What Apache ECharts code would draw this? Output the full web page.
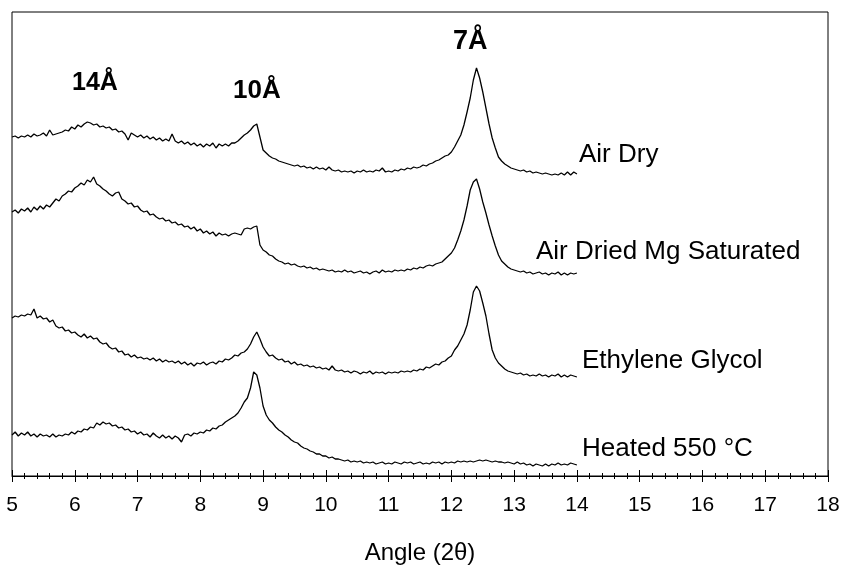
<!DOCTYPE html>
<html>
<head>
<meta charset="utf-8">
<script src="https://cdn.jsdelivr.net/npm/echarts@6/dist/echarts.min.js"></script>
<style>
  html, body { margin: 0; padding: 0; background: #fff; }
  #chart { width: 843px; height: 575px; }
</style>
</head>
<body>
<div id="chart"></div>
<script>
  // sampling angles, 5.00 .. 14.00 deg 2theta, step 0.05
  const angles = []
  for (let i = 0; i <= 180; i++) angles.push(+(5 + i * 0.05).toFixed(2))

  const xTicks = [5, 6, 7, 8, 9, 10, 11, 12, 13, 14, 15, 16, 17, 18]

  // intensities (offset traces, arbitrary units)
  const airDry = [
    339, 340, 338, 340, 339, 341, 339, 342, 340, 341,
    343, 340, 346, 341, 342, 343, 344, 346, 345, 349,
    347, 351, 349, 352, 354, 353, 351, 352, 349, 350,
    348, 349, 346, 347, 344, 345, 342, 336, 343, 341,
    339, 341, 338, 340, 337, 339, 336, 338, 335, 337,
    335, 342, 335, 333, 335, 332, 334, 331, 333, 330,
    332, 329, 332, 330, 333, 328, 332, 330, 332, 330,
    333, 333, 335, 338, 341, 343, 346, 350, 352, 339,
    326, 323, 320, 318, 317, 315, 314, 313, 312, 311,
    310, 311, 309, 310, 308, 309, 307, 309, 307, 308,
    306, 309, 306, 305, 306, 304, 305, 304, 305, 303,
    305, 304, 306, 304, 305, 304, 306, 305, 308, 304,
    305, 304, 306, 305, 307, 306, 308, 307, 309, 308,
    309, 311, 310, 312, 313, 315, 316, 318, 320, 321,
    324, 329, 335, 341, 351, 364, 378, 396, 408, 398,
    384, 368, 352, 338, 328, 319, 315, 312, 310, 308,
    307, 306, 305, 306, 304, 305, 303, 304, 303, 302,
    303, 302, 301, 302, 301, 303, 301, 304, 301, 304,
    302
  ]
  const airDriedMg = [
    264, 266, 263, 267, 265, 268, 264, 269, 266, 270,
    267, 271, 269, 273, 277, 275, 280, 282, 285, 284,
    288, 290, 293, 291, 296, 294, 299, 292, 290, 287,
    285, 282, 280, 283, 284, 277, 275, 272, 273, 269,
    270, 266, 264, 265, 261, 262, 259, 257, 258, 255,
    256, 253, 254, 251, 252, 249, 250, 247, 249, 245,
    247, 243, 245, 242, 244, 240, 243, 241, 242, 240,
    242, 243, 242, 241, 247, 248, 247, 249, 250, 231,
    226, 224, 221, 220, 217, 215, 214, 212, 213, 211,
    212, 210, 209, 210, 208, 209, 207, 208, 206, 207,
    206, 205, 206, 204, 205, 204, 206, 204, 205, 203,
    204, 205, 203, 204, 202, 204, 205, 203, 206, 204,
    205, 204, 206, 205, 206, 205, 207, 206, 208, 207,
    209, 208, 210, 211, 210, 212, 213, 214, 217, 220,
    223, 228, 236, 245, 256, 270, 286, 294, 297, 287,
    274, 263, 251, 240, 230, 221, 215, 212, 209, 207,
    206, 205, 204, 205, 203, 204, 202, 203, 204, 202,
    203, 201, 203, 202, 204, 201, 203, 201, 203, 202,
    203
  ]
  const ethyleneGlycol = [
    158, 160, 159, 161, 160, 162, 161, 167, 158, 160,
    157, 158, 154, 156, 150, 148, 149, 145, 146, 143,
    144, 141, 139, 142, 138, 140, 137, 138, 134, 132,
    133, 129, 127, 128, 124, 125, 121, 122, 119, 121,
    118, 119, 117, 118, 116, 118, 115, 117, 114, 116,
    114, 115, 113, 115, 112, 114, 111, 113, 110, 113,
    112, 114, 111, 113, 114, 112, 115, 114, 117, 116,
    118, 121, 120, 123, 124, 127, 132, 139, 144, 137,
    129, 124, 120, 121, 118, 116, 117, 114, 115, 112,
    114, 111, 112, 110, 111, 109, 110, 108, 109, 107,
    108, 106, 110, 106, 105, 106, 104, 105, 103, 105,
    104, 102, 104, 103, 105, 102, 104, 103, 104, 102,
    104, 103, 104, 103, 105, 104, 105, 104, 106, 105,
    107, 106, 109, 108, 110, 112, 111, 114, 115, 118,
    120, 126, 130, 136, 142, 151, 166, 184, 190, 185,
    173, 160, 142, 126, 118, 113, 110, 107, 105, 104,
    103, 102, 103, 101, 102, 100, 101, 100, 102, 100,
    101, 99, 101, 100, 102, 99, 101, 99, 101, 100,
    99
  ]
  const heated550 = [
    41, 44, 40, 43, 41, 44, 40, 42, 39, 42,
    40, 41, 39, 42, 39, 41, 40, 42, 41, 44,
    42, 45, 44, 47, 46, 49, 48, 53, 51, 54,
    52, 53, 50, 51, 48, 49, 46, 47, 44, 45,
    42, 44, 41, 42, 39, 43, 40, 38, 41, 38,
    40, 37, 40, 38, 34, 41, 42, 40, 43, 42,
    44, 43, 46, 45, 48, 47, 50, 51, 54, 56,
    58, 60, 63, 68, 74, 78, 88, 104, 101, 88,
    70, 61, 56, 53, 49, 46, 44, 41, 39, 36,
    34, 33, 30, 28, 27, 25, 24, 22, 22, 20,
    20, 18, 19, 17, 17, 16, 15, 16, 14, 15,
    14, 15, 13, 14, 13, 14, 12, 13, 14, 12,
    13, 12, 14, 13, 12, 14, 13, 14, 12, 13,
    14, 12, 13, 12, 14, 13, 14, 12, 14, 13,
    14, 13, 15, 14, 15, 14, 15, 14, 15, 16,
    15, 16, 15, 14, 15, 14, 14, 13, 14, 13,
    12, 14, 12, 13, 11, 12, 10, 12, 11, 10,
    12, 10, 12, 11, 13, 11, 12, 11, 13, 12,
    11
  ]

  const seriesNames = ['Air Dry', 'Air Dried Mg Saturated', 'Ethylene Glycol', 'Heated 550 °C']
  const seriesValues = [airDry, airDriedMg, ethyleneGlycol, heated550]

  const chart = echarts.init(document.getElementById('chart'))

  const textFont = 'Liberation Sans, Arial, sans-serif'

  function label(text, x, y, size, bold) {
    return {
      type: 'text',
      x: x,
      y: y,
      silent: true,
      style: {
        text: text,
        fill: '#000',
        fontFamily: textFont,
        fontSize: size,
        fontWeight: bold ? 'bold' : 'normal',
        align: 'left',
        verticalAlign: 'middle'
      }
    }
  }

  chart.setOption({
    animation: false,
    backgroundColor: '#fff',
    grid: {
      left: 12,
      right: 15,
      top: 12,
      bottom: 99,
      show: true,
      borderColor: '#000',
      borderWidth: 1
    },
    xAxis: [
      {
        type: 'value',
        min: xTicks[0],
        max: xTicks[xTicks.length - 1],
        interval: 1,
        position: 'bottom',
        axisLine: {onZero: false, lineStyle: {color: '#000', width: 1}},
        axisTick: {show: true, inside: false, length: 6, lineStyle: {color: '#000'}},
        minorTick: {show: true, splitNumber: 5, length: 3, lineStyle: {color: '#000'}},
        splitLine: {show: false},
        axisLabel: {
          color: '#000',
          fontFamily: textFont,
          fontSize: 21,
          margin: 19
        },
        name: 'Angle (2θ)',
        nameLocation: 'middle',
        nameGap: 65,
        nameTextStyle: {color: '#000', fontFamily: textFont, fontSize: 24}
      },
      {
        type: 'value',
        min: xTicks[0],
        max: xTicks[xTicks.length - 1],
        interval: 1,
        position: 'bottom',
        axisLine: {show: false, onZero: false},
        axisTick: {show: true, inside: true, length: 6, lineStyle: {color: '#000'}},
        minorTick: {show: true, splitNumber: 5, length: 3, lineStyle: {color: '#000'}},
        splitLine: {show: false},
        axisLabel: {show: false}
      }
    ],
    yAxis: {
      type: 'value',
      min: 0,
      max: 464,
      show: false
    },
    series: seriesValues.map((vals, k) => ({
      name: seriesNames[k],
      type: 'line',
      showSymbol: false,
      symbol: 'none',
      xAxisIndex: 0,
      lineStyle: {color: '#000', width: 1.3},
      data: angles.map((a, i) => [a, vals[i]])
    })),
    graphic: [
      label('14Å', 72, 83, 25, true),
      label('10Å', 233, 91, 26, true),
      label('7Å', 453, 42, 27, true),
      label('Air Dry', 579, 155, 26, false),
      label('Air Dried Mg Saturated', 536, 252, 26, false),
      label('Ethylene Glycol', 582, 361, 26, false),
      label('Heated 550 °C', 582, 449, 26, false)
    ]
  })
</script>
</body>
</html>
